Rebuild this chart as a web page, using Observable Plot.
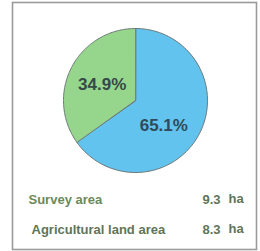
<!DOCTYPE html>
<html>
<head>
<meta charset="utf-8">
<script src="https://cdn.jsdelivr.net/npm/d3@7"></script>
<script src="https://cdn.jsdelivr.net/npm/@observablehq/plot@0.6"></script>
<style>
  html, body { margin: 0; padding: 0; background: #fff; }
  g[aria-label="pie-label"] text { letter-spacing: 3px; }
</style>
</head>
<body>
<div id="chart"></div>
<script>
// ---- data ----
const categories = ["Other", "Agricultural land"];
const shares = [65.1, 34.9];
const sliceColors = ["#62c3ef", "#96d68c"];
const rowLabels = ["Survey area", "Agricultural land area"];
const rowValues = ["9.3", "8.3"];
const rowUnits = ["ha", "ha"];

// ---- build slice outlines from the shares ----
const arcs = d3.pie().sort(null).value(d => d.value)(
  categories.map((c, i) => ({ name: c, value: shares[i], color: sliceColors[i] }))
);
const pts = [];
for (const a of arcs) {
  pts.push({ name: a.data.name, color: a.data.color, x: 0, y: 0 });
  const n = 120;
  for (let k = 0; k <= n; k++) {
    const t = a.startAngle + (a.endAngle - a.startAngle) * k / n;
    pts.push({ name: a.data.name, color: a.data.color, x: Math.sin(t), y: Math.cos(t) });
  }
}
const labels = arcs.map(a => {
  const m = (a.startAngle + a.endAngle) / 2;
  return { text: a.data.value.toFixed(1) + "%", x: 0.52 * Math.sin(m), y: 0.52 * Math.cos(m) };
});
const rows = rowLabels.map((l, i) => ({ label: l, value: rowValues[i], unit: rowUnits[i] }));

const font = "Liberation Sans, Arial, sans-serif";
const txtColor = "#5f7458";

const chart = Plot.plot({
  width: 260,
  height: 251,
  marginLeft: 12, marginRight: 4, marginTop: 2, marginBottom: 2,
  x: { domain: [-1, 1], range: [63, 207], axis: null },
  y: { domain: [-1, 1], range: [172, 28], axis: null },
  style: { fontFamily: font, background: "#fff" },
  marks: [
    Plot.frame({ stroke: "#9a9a9a", strokeWidth: 1.6 }),
    Plot.line(pts, { x: "x", y: "y", z: "name", fill: "color", stroke: "#6b7878", strokeWidth: 1, curve: "linear-closed" }),
    Plot.text([labels[1]], { x: "x", y: "y", text: "text", fontSize: 17, fontWeight: "bold", fill: "#354a47", dx: 0, dy: 1, ariaLabel: "pie-label" }),
    Plot.text([labels[0]], { x: "x", y: "y", text: "text", fontSize: 17, fontWeight: "bold", fill: "#2f4a58", dx: -5, dy: 8, ariaLabel: "pie-label" }),
    Plot.text([rows[0]], { frameAnchor: "bottom-left", text: "label", textAnchor: "start", dx: 16, dy: -46, fontSize: 13, fontWeight: "bold", fill: "#6a8a5c" }),
    Plot.text([rows[1]], { frameAnchor: "bottom-left", text: "label", textAnchor: "start", dx: 19, dy: -16, fontSize: 13, fontWeight: "bold", fill: txtColor }),
    Plot.text([rows[0]], { frameAnchor: "bottom-right", text: "value", textAnchor: "end", dx: -36, dy: -46, fontSize: 13, fontWeight: "bold", fill: txtColor }),
    Plot.text([rows[1]], { frameAnchor: "bottom-right", text: "value", textAnchor: "end", dx: -36, dy: -16, fontSize: 13, fontWeight: "bold", fill: txtColor }),
    Plot.text([rows[0]], { frameAnchor: "bottom-right", text: "unit", textAnchor: "start", dx: -28, dy: -47, fontSize: 13, fontWeight: "bold", fill: txtColor }),
    Plot.text([rows[1]], { frameAnchor: "bottom-right", text: "unit", textAnchor: "start", dx: -28, dy: -17, fontSize: 13, fontWeight: "bold", fill: txtColor })
  ]
});
document.getElementById("chart").appendChild(chart);
</script>
</body>
</html>
